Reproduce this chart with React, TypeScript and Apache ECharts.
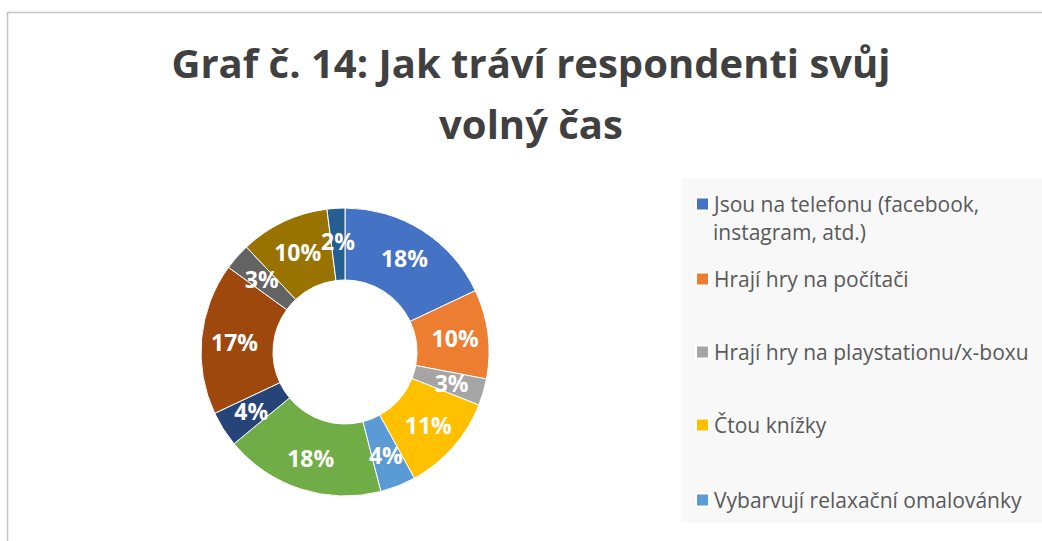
import React, { useEffect, useRef } from "react";
import * as echarts from "echarts";

const categories = [
  "Jsou na telefonu (facebook, instagram, atd.)",
  "Hrají hry na počítači",
  "Hrají hry na playstationu/x-boxu",
  "Čtou knížky",
  "Vybarvují relaxační omalovánky",
  "Ostatní 1",
  "Ostatní 2",
  "Ostatní 3",
  "Ostatní 4",
  "Ostatní 5",
  "Ostatní 6",
];
const values = [18, 10, 3, 11, 4, 18, 4, 17, 3, 10, 2];
const colors = [
  "#4472C4", "#ED7D31", "#A5A5A5", "#FFC000", "#5B9BD5",
  "#70AD47", "#264478", "#9E480E", "#636363", "#997300", "#255E91",
];
const legendNames = categories.slice(0, 5);
const legendCenters = [204, 279, 352, 425, 500];
const legendFirstLine = "Jsou na telefonu (facebook,";
const legendSecondLine = "instagram, atd.)";
const titleText = "Graf č. 14: Jak tráví respondenti svůj\nvolný čas";

export default function App() {
  const ref = useRef<HTMLDivElement>(null);
  useEffect(() => {
    if (!ref.current) return;
    const chart = echarts.init(ref.current, null, { renderer: "svg" });
    const font = "'Open Sans', Lato, sans-serif";
    const lh = 28;
    const legendFontSize = 21;
    const legends = legendNames.map((name, i) => ({
      orient: "vertical",
      left: 695,
      top: legendCenters[i] - lh / 2,
      padding: 0,
      itemWidth: 13,
      itemHeight: 13,
      icon: "rect",
      selectedMode: false,
      data: [name],
      formatter: (n: string) => (n === categories[0] ? legendFirstLine : n),
      textStyle: {
        fontFamily: font,
        fontSize: legendFontSize,
        color: "#595959",
        lineHeight: lh,
      },
    }));
    chart.setOption({
      animation: false,
      color: colors,
      graphic: [
        {
          type: "rect",
          shape: { x: 7.5, y: 12.5, width: 1100, height: 600 },
          style: { fill: "#fff", stroke: "#C4C4C4", lineWidth: 1.5 },
          z: -10,
        },
        {
          type: "rect",
          shape: { x: 682, y: 178, width: 400, height: 344 },
          style: { fill: "#F8F8F8" },
          z: -9,
        },
        {
          type: "text",
          x: 713,
          y: 232,
          style: {
            text: legendSecondLine,
            fontFamily: font,
            fontSize: legendFontSize,
            fill: "#595959",
            textAlign: "left",
            textVerticalAlign: "middle",
          },
        },
        {
          type: "text",
          x: 531,
          y: 32,
          style: {
            text: titleText,
            fontFamily: font,
            fontWeight: "bold",
            fontSize: 40,
            lineHeight: 61,
            fill: "#404040",
            textAlign: "center",
            textVerticalAlign: "top",
          },
        },
      ],
      legend: legends,
      series: [
        {
          type: "pie",
          center: [345, 352],
          radius: [72, 144],
          startAngle: 90,
          clockwise: true,
          avoidLabelOverlap: false,
          labelLayout: { hideOverlap: false },
          itemStyle: { borderColor: "#fff", borderWidth: 1 },
          label: {
            show: true,
            position: "inside",
            formatter: "{c}%",
            color: "#fff",
            fontFamily: font,
            fontWeight: "bold",
            fontSize: 23,
          },
          labelLine: { show: false },
          data: categories.map((c, i) => ({ name: c, value: values[i] })),
        },
      ],
    });
    return () => chart.dispose();
  }, []);
  return (
    <div
      ref={ref}
      style={{ position: "absolute", left: 0, top: 0, width: 1042, height: 541 }}
    />
  );
}
